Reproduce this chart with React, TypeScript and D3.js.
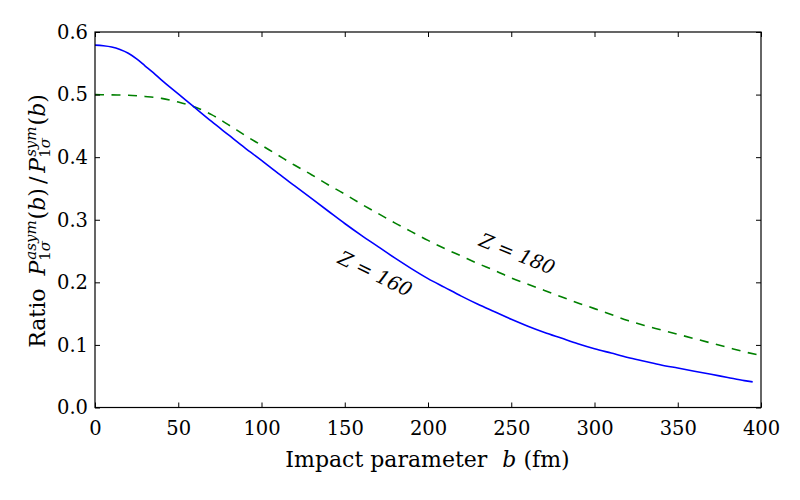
import * as React from 'react';
import { useEffect, useRef } from 'react';
import * as d3 from 'd3';

// impact parameter b (fm) and ratio for Z = 160
const bZ160 = [0, 5, 10, 15, 20, 25, 30, 35, 40, 50, 60, 70, 80, 90, 100, 110, 120, 130, 140, 150, 160, 170, 180, 190, 200,
  210, 220, 230, 240, 250, 260, 270, 280, 290, 300, 310, 320, 330, 340, 350, 360, 370, 380, 390, 395];
const ratioZ160 = [0.579, 0.578, 0.576, 0.572, 0.566, 0.557, 0.546, 0.535, 0.523, 0.501, 0.479, 0.457, 0.436, 0.415, 0.395,
  0.374, 0.354, 0.334, 0.314, 0.294, 0.275, 0.257, 0.239, 0.222, 0.206, 0.192, 0.178, 0.165, 0.153, 0.141, 0.130, 0.120,
  0.111, 0.102, 0.094, 0.087, 0.080, 0.074, 0.068, 0.063, 0.058, 0.053, 0.048, 0.043, 0.041];

// impact parameter b (fm) and ratio for Z = 180
const bZ180 = [0, 10, 20, 30, 40, 50, 60, 70, 80, 90, 100, 110, 120, 130, 140, 150, 160, 170, 180, 190, 200, 210, 220, 230,
  240, 250, 260, 270, 280, 290, 300, 310, 320, 330, 340, 350, 360, 370, 380, 390, 400];
const ratioZ180 = [0.500, 0.4995, 0.499, 0.497, 0.494, 0.488, 0.480, 0.468, 0.452, 0.435, 0.419, 0.403, 0.387, 0.372, 0.356,
  0.341, 0.325, 0.310, 0.295, 0.281, 0.267, 0.254, 0.242, 0.230, 0.219, 0.207, 0.197, 0.187, 0.177, 0.167, 0.158, 0.1485,
  0.139, 0.131, 0.124, 0.117, 0.110, 0.103, 0.096, 0.089, 0.083];

const xTicks = [0, 50, 100, 150, 200, 250, 300, 350, 400];
const yTicks = [0, 0.1, 0.2, 0.3, 0.4, 0.5, 0.6];

const serif = '"DejaVu Serif", serif';

const App: React.FC = () => {
  const svgRef = useRef<SVGSVGElement>(null);

  useEffect(() => {
    if (!svgRef.current) return;
    const svg = d3.select(svgRef.current);
    svg.selectAll('*').remove();

    const left = 95, right = 761, top = 32, bottom = 407.5;
    const x = d3.scaleLinear().domain([0, 400]).range([left, right]);
    const y = d3.scaleLinear().domain([0, 0.6]).range([bottom, top]);

    svg.append('rect').attr('width', 800).attr('height', 500).attr('fill', '#fff');

    // curves
    const line = d3.line<[number, number]>()
      .x(d => x(d[0]))
      .y(d => y(d[1]))
      .curve(d3.curveMonotoneX);

    svg.append('path')
      .datum(d3.zip(bZ180, ratioZ180) as [number, number][])
      .attr('fill', 'none')
      .attr('stroke', '#008000')
      .attr('stroke-width', 1.6)
      .attr('stroke-dasharray', '9,7.5')
      .attr('d', line);

    svg.append('path')
      .datum(d3.zip(bZ160, ratioZ160) as [number, number][])
      .attr('fill', 'none')
      .attr('stroke', '#0000ff')
      .attr('stroke-width', 1.6)
      .attr('d', line);

    // axes, ticks pointing inward on all four sides
    const styleAxis = (g: d3.Selection<SVGGElement, unknown, null, undefined>) => {
      g.select('.domain').remove();
      g.selectAll('line').attr('stroke', '#000').attr('stroke-width', 1);
      g.selectAll('text').attr('fill', '#000');
      g.attr('font-family', serif).attr('font-size', 19.5);
    };

    svg.append('g')
      .attr('transform', `translate(0,${bottom})`)
      .call(d3.axisBottom(x).tickValues(xTicks).tickSize(-5).tickPadding(14).tickFormat(d3.format('d')))
      .call(styleAxis);

    svg.append('g')
      .attr('transform', `translate(${left},0)`)
      .call(d3.axisLeft(y).tickValues(yTicks).tickSize(-5).tickPadding(7).tickFormat(d3.format('.1f')))
      .call(styleAxis);

    svg.append('g')
      .attr('transform', `translate(0,${top})`)
      .call(d3.axisTop(x).tickValues(xTicks).tickSize(-5).tickFormat(() => ''))
      .call(styleAxis);

    svg.append('g')
      .attr('transform', `translate(${right},0)`)
      .call(d3.axisRight(y).tickValues(yTicks).tickSize(-5).tickFormat(() => ''))
      .call(styleAxis);

    svg.append('rect')
      .attr('x', left).attr('y', top)
      .attr('width', right - left).attr('height', bottom - top)
      .attr('fill', 'none').attr('stroke', '#000').attr('stroke-width', 1.2);

    // curve annotations
    const note = (label: string, cx: number, cy: number, angle: number) => {
      svg.append('text')
        .attr('transform', `translate(${cx},${cy}) rotate(${angle})`)
        .attr('text-anchor', 'middle')
        .attr('dominant-baseline', 'central')
        .attr('font-family', serif)
        .attr('font-style', 'italic')
        .attr('font-size', 19.5)
        .text(label);
    };
    note('Z = 160', 375, 274, 26);
    note('Z = 180', 517, 254, 22);

    // x label
    const xl = svg.append('text')
      .attr('x', 427.5).attr('y', 467)
      .attr('text-anchor', 'middle')
      .attr('font-family', serif)
      .attr('font-size', 22);
    xl.append('tspan').text('Impact parameter');
    xl.append('tspan').attr('dx', 15).attr('font-style', 'italic').text('b');
    xl.append('tspan').text(' (fm)');

    // y label with stacked sub/superscripts
    const yl = svg.append('text')
      .attr('transform', 'translate(45,221) rotate(-90)')
      .attr('text-anchor', 'middle')
      .attr('font-family', serif)
      .attr('font-size', 22);
    yl.append('tspan').text('Ratio');

    const ratioPart = (supText: string, gap: number) => {
      yl.append('tspan').attr('dx', gap).attr('font-style', 'italic').text('P');
      const s1 = yl.append('tspan').attr('font-size', 15).attr('dy', 4.5).text('1');
      const s2 = yl.append('tspan').attr('font-size', 15).attr('font-style', 'italic').text('σ');
      const subLen = (s1.node()!.getComputedTextLength() + s2.node()!.getComputedTextLength());
      yl.append('tspan')
        .attr('font-size', 15).attr('font-style', 'italic')
        .attr('dx', -subLen + 1).attr('dy', -14)
        .text(supText);
      yl.append('tspan').attr('dy', 9.5).attr('dx', 1).text('(');
      yl.append('tspan').attr('font-style', 'italic').text('b');
      yl.append('tspan').text(')');
    };
    ratioPart('asym', 13);
    yl.append('tspan').attr('dx', 4).text('/');
    ratioPart('sym', 4);
  }, []);

  return (
    <svg
      ref={svgRef}
      width={800}
      height={500}
      viewBox="0 0 800 500"
      style={{ position: 'absolute', left: 0, top: 0 }}
    />
  );
};

export default App;
